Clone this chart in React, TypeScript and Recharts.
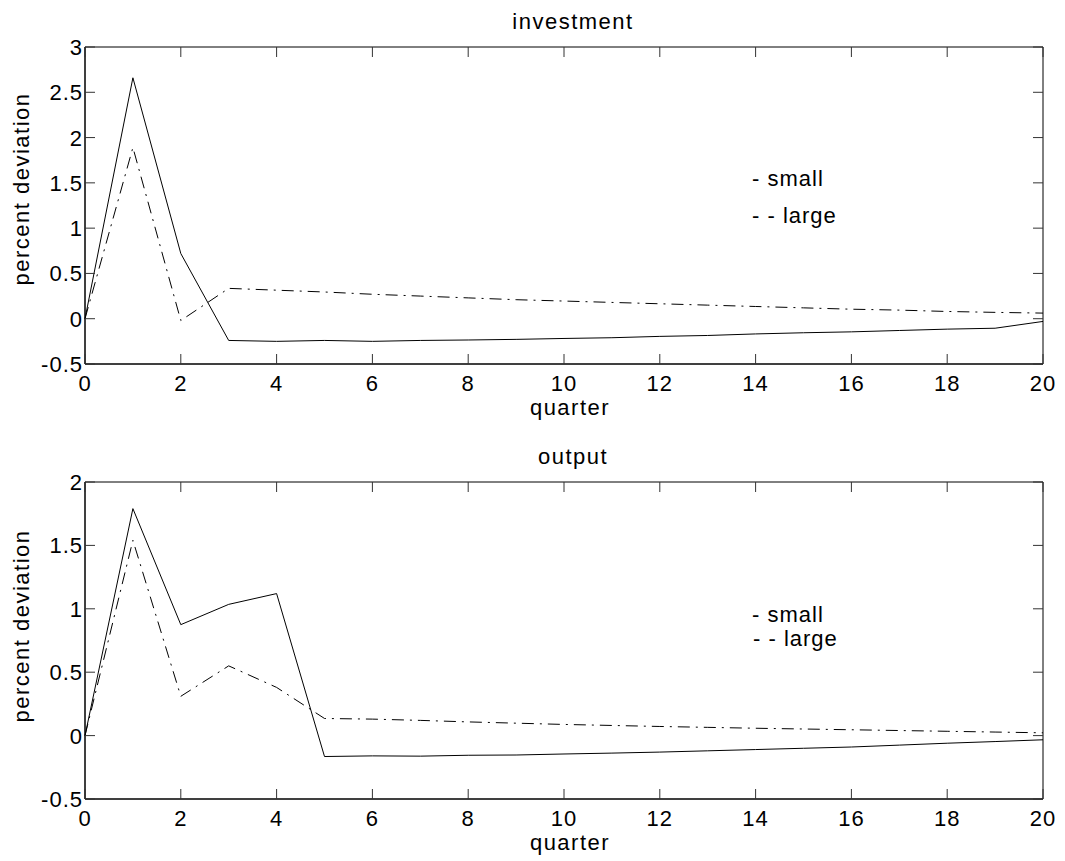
import React from "react";
import { LineChart, Line, XAxis, YAxis, ReferenceArea } from "recharts";

// quarters after the shock
const quarters = [0, 1, 2, 3, 4, 5, 6, 7, 8, 9, 10, 11, 12, 13, 14, 15, 16, 17, 18, 19, 20];
const xTicks = [0, 2, 4, 6, 8, 10, 12, 14, 16, 18, 20];

// investment, percent deviation
const invSmall = [0, 2.66, 0.72, -0.24, -0.25, -0.24, -0.25, -0.24, -0.235, -0.228, -0.218, -0.21, -0.195, -0.185, -0.168, -0.155, -0.145, -0.13, -0.115, -0.105, -0.03];
const invLarge = [0, 1.89, -0.02, 0.335, 0.315, 0.295, 0.27, 0.25, 0.23, 0.21, 0.195, 0.18, 0.165, 0.15, 0.135, 0.12, 0.105, 0.095, 0.08, 0.07, 0.062];
const invTicks = [-0.5, 0, 0.5, 1, 1.5, 2, 2.5, 3];

// output, percent deviation
const outSmall = [0, 1.79, 0.875, 1.035, 1.12, -0.165, -0.16, -0.162, -0.155, -0.153, -0.145, -0.138, -0.13, -0.12, -0.11, -0.1, -0.09, -0.075, -0.06, -0.047, -0.033];
const outLarge = [0, 1.54, 0.31, 0.55, 0.38, 0.135, 0.13, 0.12, 0.108, 0.098, 0.088, 0.08, 0.072, 0.065, 0.058, 0.052, 0.046, 0.04, 0.034, 0.028, 0.022];
const outTicks = [-0.5, 0, 0.5, 1, 1.5, 2];

const FONT = "'Liberation Sans', Arial, Helvetica, sans-serif";
const W = 1065;
const H = 426;
// plot box inside each panel (matlab style, ticks point inward on all four sides)
const BOX = { left: 85, right: 1043, top: 47, bottom: 364 };
const TICK = 10;

const toRows = (small: number[], large: number[]) =>
  quarters.map((q, i) => ({ q, small: small[i], large: large[i] }));

const XTick = ({ x, payload }: any) => (
  <g>
    <line x1={x} x2={x} y1={BOX.bottom} y2={BOX.bottom - TICK} stroke="#333" />
    <line x1={x} x2={x} y1={BOX.top} y2={BOX.top + TICK} stroke="#333" />
    <text x={x} y={BOX.bottom + 27} textAnchor="middle" fontSize={22} fill="#000">{payload.value}</text>
  </g>
);

const YTick = ({ y, payload }: any) => (
  <g>
    <line x1={BOX.left} x2={BOX.left + TICK} y1={y} y2={y} stroke="#333" />
    <line x1={BOX.right} x2={BOX.right - TICK} y1={y} y2={y} stroke="#333" />
    <text x={BOX.left - 2} y={y + 8} textAnchor="end" fontSize={22} fill="#000">{payload.value}</text>
  </g>
);

interface PanelProps {
  top: number;
  title: string;
  small: number[];
  large: number[];
  yTicks: number[];
  legend: { x1: number; y1: number; x2: number; y2: number };
  ylabelY: number;
}

function Panel({ top, title, small, large, yTicks, legend, ylabelY }: PanelProps) {
  const data = toRows(small, large);
  const yMin = yTicks[0];
  const yMax = yTicks[yTicks.length - 1];

  return (
    <div style={{ position: "absolute", left: 0, top, width: W, height: H }}>
      <LineChart width={W} height={H} data={data}
        margin={{ top: BOX.top, right: W - BOX.right, left: 0, bottom: H - BOX.bottom - 30 }}>
        <XAxis dataKey="q" type="number" domain={[0, 20]} ticks={xTicks} interval={0}
          height={30} tick={<XTick />} tickLine={false} axisLine={{ stroke: "#000" }} />
        <YAxis type="number" domain={[yMin, yMax]} ticks={yTicks} interval={0} width={BOX.left}
          tick={<YTick />} tickLine={false} axisLine={{ stroke: "#000" }} allowDataOverflow />
        <ReferenceArea x1={0} x2={20} y1={yMin} y2={yMax} fill="none" stroke="#000" strokeWidth={1} />
        <Line type="linear" dataKey="small" stroke="#000" strokeWidth={1} dot={false} isAnimationActive={false} />
        <Line type="linear" dataKey="large" stroke="#000" strokeWidth={1} strokeDasharray="12 6 2 6" dot={false} isAnimationActive={false} />
      </LineChart>
      <svg width={W} height={H} style={{ position: "absolute", left: 0, top: 0, pointerEvents: "none" }}
        fontFamily={FONT} fontSize={22} fill="#000">
        <text x={573} y={29} textAnchor="middle" letterSpacing={1.5}>{title}</text>
        <text x={570} y={415} textAnchor="middle" letterSpacing={1.5}>quarter</text>
        <text transform={`translate(29, ${ylabelY}) rotate(-90)`} textAnchor="middle" letterSpacing={1.5}>percent deviation</text>
        <text x={legend.x1} y={legend.y1} letterSpacing={1}>- small</text>
        <text x={legend.x2} y={legend.y2} letterSpacing={1}>- - large</text>
      </svg>
    </div>
  );
}

export default function App() {
  return (
    <div style={{ position: "absolute", left: 0, top: 0, width: W, height: 861, background: "#fff", fontFamily: FONT, letterSpacing: "1px" }}>
      <Panel top={0} title="investment" small={invSmall} large={invLarge} yTicks={invTicks}
        legend={{ x1: 752, y1: 186, x2: 752, y2: 223 }} ylabelY={189} />
      <Panel top={435} title="output" small={outSmall} large={outLarge} yTicks={outTicks}
        legend={{ x1: 752, y1: 187, x2: 753, y2: 211 }} ylabelY={191} />
    </div>
  );
}
